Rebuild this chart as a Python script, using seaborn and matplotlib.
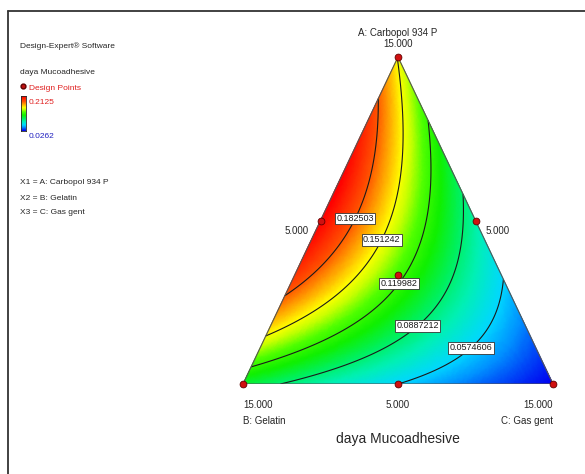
import matplotlib
matplotlib.use("Agg")
import matplotlib.pyplot as plt
import matplotlib.tri as mtri
from matplotlib.colors import LinearSegmentedColormap
from matplotlib.lines import Line2D
import numpy as np
import pandas as pd
import seaborn as sns

# design points (pseudo component fractions) and measured response
comp_A = [1.0, 0.0, 0.0, 0.5, 0.5, 0.0, 1 / 3]
comp_B = [0.0, 1.0, 0.0, 0.5, 0.0, 0.5, 1 / 3]
comp_C = [0.0, 0.0, 1.0, 0.0, 0.5, 0.5, 1 / 3]
response = [0.150, 0.100, 0.0262, 0.2125, 0.0785, 0.0575, 0.1244]

contour_levels = [0.0574606, 0.0887212, 0.119982, 0.151242, 0.182503]
resp_min, resp_max = 0.0262, 0.2125

sns.set_style("white")
plt.rcParams["font.family"] = ["Liberation Sans Narrow", "Liberation Sans", "DejaVu Sans"]

W, H = 585, 474
fig = plt.figure(figsize=(W / 100, H / 100), dpi=100)

# triangle placement in pixels: B bottom-left, C bottom-right, A top
xB, xC, yBase, yTop = 243, 553, 384, 57
ax = fig.add_axes([xB / W, 1 - yBase / H, (xC - xB) / W, (yBase - yTop) / H])


def to_xy(a, b, c):
    a, b, c = np.asarray(a), np.asarray(b), np.asarray(c)
    return c + 0.5 * a, a


# special cubic Scheffe model fitted through the design points
df = pd.DataFrame({"A": comp_A, "B": comp_B, "C": comp_C, "y": response})
X = np.column_stack([df.A, df.B, df.C, df.A * df.B, df.A * df.C, df.B * df.C,
                     df.A * df.B * df.C])
coef = np.linalg.solve(X, df.y.values)

n = 160
aa, bb = [], []
for i in range(n + 1):
    for j in range(n + 1 - i):
        aa.append(i / n)
        bb.append(j / n)
aa = np.array(aa)
bb = np.array(bb)
cc = 1 - aa - bb
zz = (coef[0] * aa + coef[1] * bb + coef[2] * cc + coef[3] * aa * bb
      + coef[4] * aa * cc + coef[5] * bb * cc + coef[6] * aa * bb * cc)
gx, gy = to_xy(aa, bb, cc)
tri = mtri.Triangulation(gx, gy)

# Design-Expert style colour ramp, anchored on response values
stops = [(0.0262, "#0000f0"), (0.045, "#0090ff"), (0.0575, "#00d8ff"),
         (0.075, "#00f0b8"), (0.092, "#00f060"), (0.11, "#10f000"),
         (0.128, "#50ff00"), (0.142, "#c8ff00"), (0.152, "#ffff00"),
         (0.168, "#ffa800"), (0.185, "#ff5000"), (0.2125, "#ff0000")]
cmap = LinearSegmentedColormap.from_list(
    "de", [((v - resp_min) / (resp_max - resp_min), c) for v, c in stops])
ax.tripcolor(tri, zz, shading="gouraud", cmap=cmap, vmin=resp_min, vmax=resp_max)
cs = ax.tricontour(tri, zz, levels=contour_levels, colors="#1a1a1a", linewidths=0.8)

label_pos = [(0.723, 0.125), (0.548, 0.196), (0.5, 0.309), (0.416, 0.456), (0.345, 0.514)]
fmt = {lv: (f"{lv:.6g}") for lv in contour_levels}
labels = ax.clabel(cs, fmt=fmt, fontsize=6.5, inline=False, manual=label_pos)
for t in labels:
    t.set_rotation(0)
    t.set_zorder(6)
    t.set_bbox(dict(boxstyle="square,pad=0.15", fc="white", ec="#333333", lw=0.6))

# triangle outline
ox, oy = to_xy([1, 0, 0, 1], [0, 1, 0, 0], [0, 0, 1, 0])
ax.plot(ox, oy, color="#555555", lw=0.8)

pts = pd.DataFrame(dict(zip(["x", "y"], to_xy(comp_A, comp_B, comp_C))))
sns.scatterplot(data=pts, x="x", y="y", ax=ax, color="#d01010", edgecolor="#600000",
                s=24, linewidth=0.6, clip_on=False, zorder=7, legend=False)

ax.set_xlim(0, 1)
ax.set_ylim(0, 1)
ax.set_axis_off()

# vertex / edge labels
fs = 7
fig.text(398 / W, 1 - 33 / H, "A: Carbopol 934 P", ha="center", va="center", fontsize=fs)
fig.text(398 / W, 1 - 44 / H, "15.000", ha="center", va="center", fontsize=fs)
fig.text(309 / W, 1 - 231 / H, "5.000", ha="right", va="center", fontsize=fs)
fig.text(486 / W, 1 - 231 / H, "5.000", ha="left", va="center", fontsize=fs)
fig.text(243 / W, 1 - 405 / H, "15.000", ha="left", va="center", fontsize=fs)
fig.text(243 / W, 1 - 421 / H, "B: Gelatin", ha="left", va="center", fontsize=fs)
fig.text(398 / W, 1 - 405 / H, "5.000", ha="center", va="center", fontsize=fs)
fig.text(553 / W, 1 - 405 / H, "15.000", ha="right", va="center", fontsize=fs)
fig.text(553 / W, 1 - 421 / H, "C: Gas gent", ha="right", va="center", fontsize=fs)
fig.text(398 / W, 1 - 439 / H, "daya Mucoadhesive", ha="center", va="center", fontsize=10)

# left legend block
lfs = 6
fig.text(20 / W, 1 - 46 / H, "Design-Expert\u00ae Software", va="center", fontsize=lfs)
fig.text(20 / W, 1 - 73 / H, "daya Mucoadhesive", va="center", fontsize=lfs)
fig.add_artist(Line2D([23 / W], [1 - 86 / H], marker="o", ms=3.5, color="#600000",
                      mfc="#c01010"))
fig.text(29 / W, 1 - 88 / H, "Design Points", va="center", fontsize=lfs, color="#e02020")
cax = fig.add_axes([21 / W, 1 - 131 / H, 5 / W, 35 / H])
cax.imshow(np.linspace(1, 0, 100)[:, None], aspect="auto", cmap=cmap)
cax.set_xticks([])
cax.set_yticks([])
for s in cax.spines.values():
    s.set_linewidth(0.6)
fig.text(29 / W, 1 - 102 / H, f"{resp_max}", va="center", fontsize=lfs, color="#e02020")
fig.text(29 / W, 1 - 137 / H, f"{resp_min}", va="center", fontsize=lfs, color="#2020c0")
fig.text(20 / W, 1 - 183 / H, "X1 = A: Carbopol 934 P", va="center", fontsize=lfs)
fig.text(20 / W, 1 - 198 / H, "X2 = B: Gelatin", va="center", fontsize=lfs)
fig.text(20 / W, 1 - 213 / H, "X3 = C: Gas gent", va="center", fontsize=lfs)

# screenshot frame (left and top edges)
fig.add_artist(Line2D([8 / W, 8 / W], [0, 1 - 11 / H], color="#333333", lw=1.3))
fig.add_artist(Line2D([8 / W, 1], [1 - 11 / H, 1 - 11 / H], color="#333333", lw=1.3))

fig.savefig("out.png", dpi=100)
